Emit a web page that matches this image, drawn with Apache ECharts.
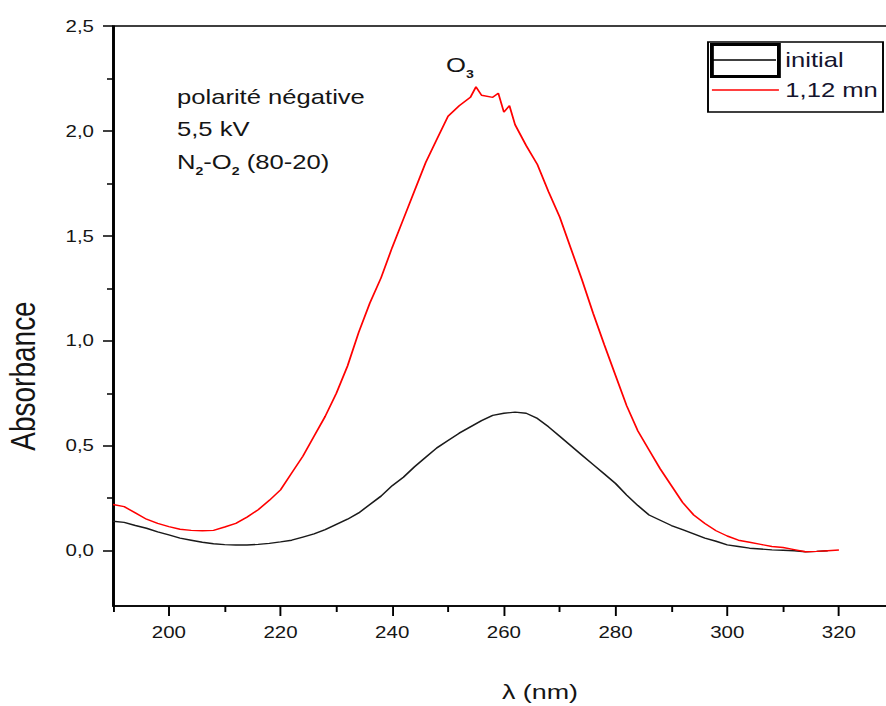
<!DOCTYPE html>
<html>
<head>
<meta charset="utf-8">
<script src="https://cdn.jsdelivr.net/npm/echarts@6/dist/echarts.min.js"></script>
<style>
html,body{margin:0;padding:0;background:#fff;overflow:hidden;}
#wrap{width:886px;height:706px;overflow:hidden;position:relative;}
#chart{width:692px;height:706px;transform:scaleX(1.28035);transform-origin:0 0;}
</style>
</head>
<body>
<div id="wrap"><div id="chart"></div></div>
<script>
// ---- data ----
const initialX = [190,192,194,196,198,200,202,204,206,208,210,212,214,216,218,220,222,224,226,228,230,232,234,236,238,240,242,244,246,248,250,252,254,256,258,260,262,264,266,268,270,272,274,276,278,280,282,284,286,288,290,292,294,296,298,300,302,304,306,308,310,312,314,316,318];
const initialY = [0.14,0.135,0.12,0.107,0.09,0.075,0.06,0.05,0.04,0.033,0.029,0.027,0.027,0.03,0.035,0.042,0.05,0.065,0.08,0.1,0.125,0.15,0.18,0.22,0.26,0.31,0.35,0.40,0.445,0.49,0.525,0.56,0.59,0.62,0.645,0.655,0.66,0.655,0.63,0.59,0.545,0.5,0.455,0.41,0.365,0.32,0.265,0.215,0.17,0.145,0.12,0.1,0.08,0.06,0.045,0.028,0.02,0.012,0.008,0.004,0.002,0.0,-0.005,-0.003,0.0];
const laterX = [190,192,194,196,198,200,202,204,206,208,210,212,214,216,218,220,222,224,226,228,230,232,234,236,238,240,242,244,246,248,250,252,254,255,256,258,259,260,261,262,264,266,268,270,272,274,276,278,280,282,284,286,288,290,292,294,296,298,300,302,304,306,308,310,312,314,316,318,320];
const laterY = [0.22,0.21,0.18,0.15,0.13,0.115,0.102,0.097,0.095,0.097,0.113,0.13,0.16,0.195,0.24,0.29,0.37,0.45,0.545,0.64,0.75,0.88,1.04,1.18,1.30,1.445,1.58,1.715,1.85,1.96,2.07,2.12,2.16,2.21,2.17,2.16,2.18,2.09,2.12,2.03,1.93,1.84,1.71,1.59,1.44,1.29,1.13,0.98,0.835,0.69,0.57,0.48,0.39,0.31,0.23,0.17,0.13,0.095,0.07,0.05,0.04,0.03,0.02,0.015,0.005,-0.005,-0.003,0.0,0.003];
const seriesNames = ['initial', '1,12 mn'];
const xMajorTicks = [200,220,240,260,280,300,320];
const xMinorTicks = [190,210,230,250,270,290,310,330];
const yMajorTicks = [0,0.5,1.0,1.5,2.0,2.5];
const yMinorTicks = [0.25,0.75,1.25,1.75,2.25];

// ---- layout (screen px -> pre-stretch px) ----
const S = 886/692;
const X = v => v / S;
const FONT = "'Liberation Sans', Arial, sans-serif";
const TXT = '#151515';

const pairs = (xs, ys) => xs.map((x, i) => [x, ys[i]]);

const chart = echarts.init(document.getElementById('chart'), null, {renderer:'svg'});
const plotLeft = X(113);
const plotRight = X(170 + 130*5.575);
const option = {
  animation:false,
  backgroundColor:'#fff',
  textStyle:{fontFamily:FONT},
  grid:{left:plotLeft, right:692-plotRight, top:26, bottom:100, show:true, borderColor:'#000', borderWidth:1.5,
        backgroundColor:'transparent', containLabel:false, outerBoundsMode:'none'},
  xAxis:[
    {type:'value', min:190, max:330, position:'bottom',
     axisLine:{show:true, onZero:false, lineStyle:{color:'#000', width:1.6}},
     axisTick:{show:true, customValues:xMajorTicks, length:10, lineStyle:{color:'#000', width:1.5}},
     axisLabel:{show:true, customValues:xMajorTicks, fontSize:16, color:TXT, fontFamily:FONT, margin:18},
     splitLine:{show:false}},
    {type:'value', min:190, max:330, position:'bottom',
     axisLine:{show:false, onZero:false},
     axisTick:{show:true, customValues:xMinorTicks, length:6, lineStyle:{color:'#000', width:1.5}},
     axisLabel:{show:false}, splitLine:{show:false}}
  ],
  yAxis:[
    {type:'value', min:-0.2635, max:2.5, position:'left',
     axisLine:{show:true, onZero:false, lineStyle:{color:'#000', width:1.6}},
     axisTick:{show:true, customValues:yMajorTicks, length:X(10), lineStyle:{color:'#000', width:1.5}},
     axisLabel:{show:true, customValues:yMajorTicks, fontSize:16, color:TXT, fontFamily:FONT, margin:X(19),
       formatter:v => v.toFixed(1).replace('.', ',')},
     splitLine:{show:false}},
    {type:'value', min:-0.2635, max:2.5, position:'left',
     axisLine:{show:false, onZero:false},
     axisTick:{show:true, customValues:yMinorTicks, length:X(6), lineStyle:{color:'#000', width:1.5}},
     axisLabel:{show:false}, splitLine:{show:false}}
  ],
  legend:{
    left:X(710), top:43, orient:'vertical', padding:0, itemGap:2,
    itemWidth:X(67), itemHeight:32, selectedMode:false, symbolKeepAspect:true,
    textStyle:{fontSize:20, color:'#14142e', fontFamily:FONT},
    data:[
      {name:seriesNames[0], icon:'rect', itemStyle:{color:'#fff', borderColor:'#000', borderWidth:3}},
      {name:seriesNames[1], icon:'path://M0 0 H66 V2 H0 Z', itemStyle:{color:'#ff0000', borderWidth:0}}
    ]
  },
  series:[
    {name:seriesNames[0], type:'line', xAxisIndex:0, yAxisIndex:0, data:pairs(initialX, initialY),
     symbol:'none', showSymbol:false, color:'#000', lineStyle:{color:'#1a1a1a', width:1.4}},
    {name:seriesNames[1], type:'line', xAxisIndex:0, yAxisIndex:0, data:pairs(laterX, laterY),
     symbol:'none', showSymbol:false, color:'#ff0000', lineStyle:{color:'#ff0000', width:1.4}}
  ],
  graphic:[
    {type:'rect', shape:{x:X(708), y:42, width:X(883-708), height:70}, style:{fill:'none', stroke:'#000', lineWidth:1.5}, silent:true, z:100},
    {type:'line', shape:{x1:X(712), y1:60, x2:X(776), y2:60}, style:{stroke:'#000', lineWidth:1.5}, silent:true, z:101},
    {type:'text', x:X(23), y:376, rotation:Math.PI/2, style:{text:'Absorbance', font:'28px '+FONT, fill:TXT, align:'center', verticalAlign:'middle'}},
    {type:'text', x:X(177), y:97, style:{text:'polarité négative', font:'20px '+FONT, fill:TXT, verticalAlign:'middle'}},
    {type:'text', x:X(177), y:129, style:{text:'5,5 kV', font:'20px '+FONT, fill:TXT, verticalAlign:'middle'}},
    {type:'text', x:X(177), y:162, style:{text:'{m|N}{s|2}{m|-O}{s|2}{m| (80-20)}', verticalAlign:'middle', fill:TXT,
      rich:{m:{fontSize:20, fontFamily:FONT, lineHeight:30, fill:TXT}, s:{fontSize:11, fontFamily:FONT, fontWeight:'bold', lineHeight:11, verticalAlign:'bottom', fill:TXT}}}},
    {type:'text', x:X(446), y:65, style:{text:'{m|O}{s|3}', verticalAlign:'middle', fill:TXT,
      rich:{m:{fontSize:20, fontFamily:FONT, lineHeight:30, fill:TXT}, s:{fontSize:11, fontFamily:FONT, fontWeight:'bold', lineHeight:11, verticalAlign:'bottom', fill:TXT}}}},
    {type:'text', x:X(540), y:692, style:{text:'λ (nm)', font:'21px '+FONT, fill:TXT, align:'center', verticalAlign:'middle'}}
  ]
};
chart.setOption(option);
</script>
</body>
</html>
